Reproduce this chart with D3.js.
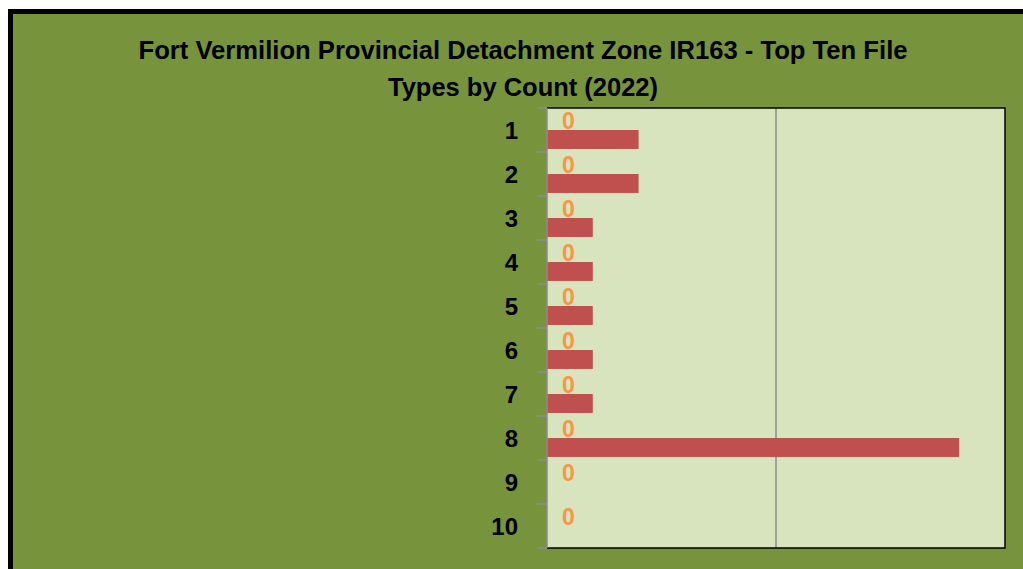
<!DOCTYPE html>
<html>
<head>
<meta charset="utf-8">
<script src="https://cdn.jsdelivr.net/npm/d3@7"></script>
<style>
  html, body { margin: 0; padding: 0; background: #ffffff; }
  svg { display: block; }
</style>
</head>
<body>
<svg id="canvas" width="1023" height="569"></svg>
<script>
// chart data
let categories = ['1', '2', '3', '4', '5', '6', '7', '8', '9', '10']
let seriesA = [0, 0, 0, 0, 0, 0, 0, 0, 0, 0]   // orange series, only its "0" labels show
let seriesB = [2, 2, 1, 1, 1, 1, 1, 9, 0, 0]   // red bars
let xTicks = [0, 5, 10]
let titleLines = ['Fort Vermilion Provincial Detachment Zone IR163 - Top Ten File', 'Types by Count (2022)']

let canvas = d3.select('#canvas')

let plotLeft = 547
let plotTop = 108
let plotRight = 1005
let plotBottom = 548

// frame
canvas.append('rect')
    .attr('x', 10.5).attr('y', 11.5)
    .attr('width', 1030).attr('height', 600)
    .attr('fill', '#77933c')
    .attr('stroke', '#000')
    .attr('stroke-width', 5)

// title
canvas.selectAll('text.title')
    .data(titleLines)
    .enter()
    .append('text')
    .attr('class', 'title')
    .attr('x', 523)
    .attr('y', (d, i) => 59 + i * 37)
    .attr('text-anchor', 'middle')
    .attr('font-family', 'Liberation Sans, Arial, sans-serif')
    .attr('font-weight', 'bold')
    .attr('font-size', 25)
    .attr('textLength', (d, i) => i === 0 ? 769 : 270)
    .attr('lengthAdjust', 'spacingAndGlyphs')
    .attr('fill', '#000')
    .text(d => d)

let x = d3.scaleLinear()
    .domain([xTicks[0], xTicks[xTicks.length - 1]])
    .range([plotLeft, plotRight])

let y = d3.scaleBand()
    .domain(categories)
    .range([plotTop, plotBottom])

let ySeries = d3.scaleBand()
    .domain(['a', 'b'])
    .range([0, y.bandwidth()])
    .paddingInner(0)
    .paddingOuter(0.16)

// plot area
canvas.append('rect')
    .attr('x', plotLeft).attr('y', plotTop)
    .attr('width', plotRight - plotLeft).attr('height', plotBottom - plotTop)
    .attr('fill', '#d7e4bd')

// gridlines
canvas.selectAll('line.grid')
    .data(xTicks.slice(1, -1))
    .enter()
    .append('line')
    .attr('class', 'grid')
    .attr('x1', d => x(d)).attr('x2', d => x(d))
    .attr('y1', plotTop).attr('y2', plotBottom)
    .attr('stroke', '#8c8c8c')
    .attr('stroke-width', 1.5)

// red bars
canvas.selectAll('rect.bar')
    .data(seriesB)
    .enter()
    .append('rect')
    .attr('class', 'bar')
    .attr('x', x(0))
    .attr('y', (d, i) => y(categories[i]) + ySeries('b'))
    .attr('width', d => x(d) - x(0))
    .attr('height', ySeries.bandwidth())
    .attr('fill', '#c0504d')

// orange series labels
canvas.selectAll('text.lbl')
    .data(seriesA)
    .enter()
    .append('text')
    .attr('class', 'lbl')
    .attr('x', d => x(d) + 15)
    .attr('y', (d, i) => y(categories[i]) + ySeries('a') + ySeries.bandwidth() / 2 + 8)
    .attr('font-family', 'Liberation Sans, Arial, sans-serif')
    .attr('font-weight', 'bold')
    .attr('font-size', 23)
    .attr('fill', '#f79646')
    .text(d => d)

// plot border (top, right, bottom)
canvas.append('path')
    .attr('d', `M${plotLeft},${plotTop}H${plotRight}V${plotBottom}H${plotLeft}`)
    .attr('fill', 'none')
    .attr('stroke', '#000')
    .attr('stroke-width', 1.5)

// category axis
let yAxis = canvas.append('g')
    .attr('transform', `translate(${plotLeft},0)`)

yAxis.append('line')
    .attr('x1', 0).attr('x2', 0)
    .attr('y1', plotTop).attr('y2', plotBottom)
    .attr('stroke', '#8c8c8c')
    .attr('stroke-width', 1.5)

yAxis.selectAll('line.tick')
    .data(categories.map(c => y(c)).concat([plotBottom]))
    .enter()
    .append('line')
    .attr('class', 'tick')
    .attr('x1', -10).attr('x2', 0)
    .attr('y1', d => d).attr('y2', d => d)
    .attr('stroke', '#8c8c8c')
    .attr('stroke-width', 1.5)

yAxis.selectAll('text')
    .data(categories)
    .enter()
    .append('text')
    .attr('x', -29)
    .attr('y', d => y(d) + y.bandwidth() / 2 + 9)
    .attr('text-anchor', 'end')
    .attr('font-family', 'Liberation Sans, Arial, sans-serif')
    .attr('font-weight', 'bold')
    .attr('font-size', 24)
    .attr('fill', '#000')
    .text(d => d)
</script>
</body>
</html>
